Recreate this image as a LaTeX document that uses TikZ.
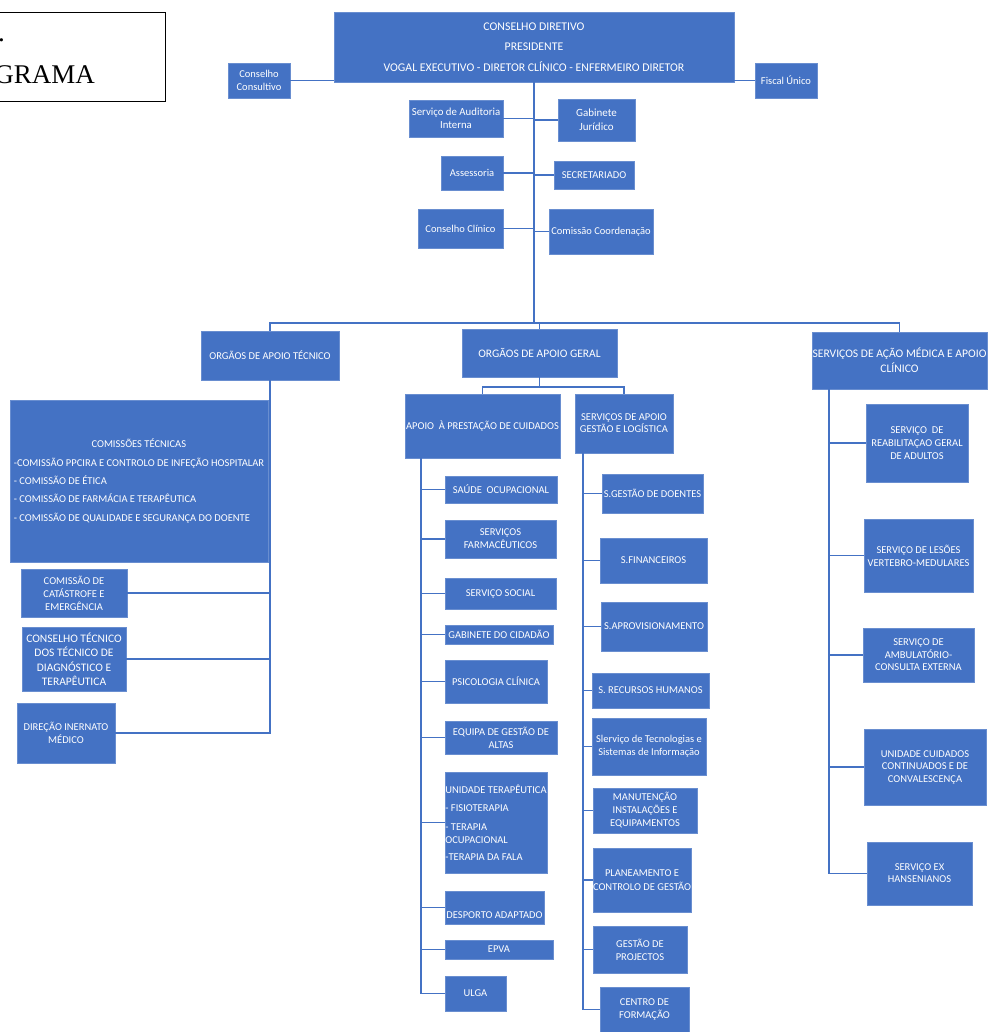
\documentclass[tikz,border=0pt]{standalone}
\usepackage{fontspec}
\setmainfont{Carlito}
\newfontfamily\tnr{Liberation Serif}
\definecolor{obl}{HTML}{4472C4}
\newcommand{\fs}[2]{\fontsize{#1}{#2}\selectfont}
\newcommand{\obox}[7][]{\node[box,minimum width={(#5-#3)*1pt},minimum height={(#6-#4)*1pt},#1] (#2) at ({(#3+#5)/2},{(#4+#6)/2}) {#7};}
\tikzset{
  box/.style={fill=obl, draw=obl!80!white, line width=0.6pt, text=white, inner sep=0pt, align=center, font=\fs{10.5}{13}},
  conn/.style={draw=obl, line width=1.8pt},
  frame/.style={draw=black, line width=0.9pt, inner sep=0pt},
  ttl/.style={font=\tnr\fs{27}{30}, anchor=base east, inner sep=0pt}
}
\begin{document}
\begin{tikzpicture}[x=1pt,y=-1pt]
\useasboundingbox (0,0) rectangle (987,1032);
% title frame
\node[frame, minimum width=180pt, minimum height=89pt] (tbox) at (75,56.5) {};
\node[ttl] (t1) at (5,42) {.};
\node[ttl] (t2) at (95,84) {GRAMA};
% top
\obox[font=\fs{11.8}{20.5}]{cd}{334}{12}{734}{82}{CONSELHO DIRETIVO\\PRESIDENTE\\VOGAL EXECUTIVO - DIRETOR CLÍNICO - ENFERMEIRO DIRETOR}
\obox{ccons}{228}{63}{290}{98}{Conselho\\Consultivo}
\obox{fu}{755}{63}{817}{98}{Fiscal Único}
\obox[font=\fs{10.8}{13}]{aud}{409}{100}{503}{137}{Serviço de Auditoria\\Interna}
\obox[font=\fs{11}{14}]{gab}{558}{99}{635}{141}{Gabinete\\Jurídico}
\obox{ass}{441}{156}{503}{190}{Assessoria}
\obox{sec}{554}{161}{634}{189}{SECRETARIADO}
\obox{ccl}{418}{209}{503}{248}{Conselho Clínico}
\obox{cco}{549}{209}{653}{254}{Comissão Coordenação}
% level 2
\obox{oat}{201}{331}{339}{380}{ORGÃOS DE APOIO TÉCNICO}
\obox[font=\fs{11.5}{14}]{oag}{462}{329}{617}{377}{ORGÃOS DE APOIO GERAL}
\obox[font=\fs{11.6}{15}]{sam}{812}{332}{987}{389}{SERVIÇOS DE AÇÃO MÉDICA E APOIO\\CLÍNICO}
% apoio tecnico
\obox[align=left, font=\fs{10.5}{18.3}]{com}{10}{400}{268}{562}{\makebox[250pt][c]{COMISSÕES TÉCNICAS}\\-COMISSÃO PPCIRA E CONTROLO DE INFEÇÃO HOSPITALAR\\- COMISSÃO DE ÉTICA\\- COMISSÃO DE FARMÁCIA E TERAPÊUTICA\\- COMISSÃO DE QUALIDADE E SEGURANÇA DO DOENTE}
\obox{cat}{21}{569}{127}{617}{COMISSÃO DE\\CATÁSTROFE E\\EMERGÊNCIA}
\obox[font=\fs{11.5}{14.5}]{ctd}{22}{627}{126}{691}{CONSELHO TÉCNICO\\DOS TÉCNICO DE\\DIAGNÓSTICO E\\TERAPÊUTICA}
\obox[font=\fs{10.5}{12.5}]{dim}{17}{703}{115}{763}{DIREÇÃO INERNATO\\MÉDICO}
% apoio geral
\obox{apc}{405}{394}{560}{458}{APOIO~~À PRESTAÇÃO DE CUIDADOS}
\obox[font=\fs{10.5}{12}]{sgl}{575}{394}{673}{453}{SERVIÇOS DE APOIO\\GESTÃO E LOGÍSTICA}
% apc column
\obox{sau}{445}{476}{557}{503}{SAÚDE~~OCUPACIONAL}
\obox{far}{445}{520}{556}{558}{SERVIÇOS\\FARMACÊUTICOS}
\obox{soc}{445}{578}{556}{609}{SERVIÇO SOCIAL}
\obox{gci}{445}{625}{553}{644}{GABINETE DO CIDADÃO}
\obox{psi}{445}{660}{547}{703}{PSICOLOGIA CLÍNICA}
\obox{alt}{445}{721}{557}{754}{EQUIPA DE GESTÃO DE\\ALTAS}
\obox[align=left]{ute}{445}{772}{547}{873}{UNIDADE TERAPÊUTICA\\[5pt]- FISIOTERAPIA\\[6pt]- TERAPIA\\OCUPACIONAL\\[4pt]-TERAPIA DA FALA}
\obox{des}{445}{891}{544}{924}{\raisebox{-11pt}[0pt][0pt]{DESPORTO ADAPTADO}}
\obox{epv}{445}{940}{553}{959}{EPVA}
\obox{ulg}{445}{976}{506}{1011}{ULGA}
% sgl column
\obox{sgd}{602}{474}{703}{513}{S.GESTÃO DE DOENTES}
\obox{sfi}{600}{538}{707}{583}{S.FINANCEIROS}
\obox{sap}{601}{602}{707}{651}{S.APROVISIONAMENTO}
\obox{srh}{592}{673}{709}{708}{S. RECURSOS HUMANOS}
\obox{sti}{592}{718}{706}{775}{Slerviço de Tecnologias e\\Sistemas de Informação}
\obox{man}{593}{788}{697}{833}{MANUTENÇÃO\\INSTALAÇÕES E\\EQUIPAMENTOS}
\obox[font=\fs{10.5}{14}]{pla}{593}{848}{691}{912}{PLANEAMENTO E\\CONTROLO DE GESTÃO}
\obox{gpr}{593}{926}{687}{973}{GESTÃO DE\\PROJECTOS}
\obox{cfo}{600}{987}{689}{1032}{CENTRO DE\\FORMAÇÃO}
% sam column
\obox{rea}{866}{404}{968}{482}{SERVIÇO~~DE\\REABILITAÇAO GERAL\\DE ADULTOS}
\obox{les}{864}{519}{973}{592}{SERVIÇO DE LESÕES\\VERTEBRO-MEDULARES}
\obox[font=\fs{10.5}{12.5}]{amb}{863}{628}{974}{682}{SERVIÇO DE\\AMBULATÓRIO-\\CONSULTA EXTERNA}
\obox[font=\fs{10.5}{12.5}]{ucc}{864}{729}{986}{805}{UNIDADE CUIDADOS\\CONTINUADOS E DE\\CONVALESCENÇA}
\obox[font=\fs{10.5}{12}]{hans}{867}{842}{972}{905}{SERVIÇO EX\\HANSENIANOS}
% connectors top
\coordinate (bus) at (534,323);
\coordinate (b2) at (539.5,387);
\coordinate (ca) at (421,458);
\coordinate (cb) at (583,453);
\coordinate (cc) at (829,389);
\draw[conn] (ccons.east) -- (ccons.east -| cd.west);
\draw[conn] (fu.west) -- (fu.west -| cd.east);
\draw[conn] (cd.south) -- (bus);
\foreach \n in {aud,ass,ccl} \draw[conn] (\n.east) -- (\n.east -| cd.south);
\foreach \n in {gab,sec,cco} \draw[conn] (\n.west) -- (\n.west -| cd.south);
\draw[conn] (oat.north) |- (sam.north |- bus) -- (sam.north);
\draw[conn] (oag.north) -- (oag.north |- bus);
\draw[conn] (oag.south) -- (b2);
\draw[conn] (apc.north) |- (sgl.north |- b2) -- (sgl.north);
% apoio tecnico
\draw[conn] (oat.south) |- (dim.east);
\foreach \n in {cat,ctd} \draw[conn] (\n.east) -- (\n.east -| oat.south);
% columns
\draw[conn] (ca) |- (ulg.west);
\foreach \n in {sau,far,soc,gci,psi,alt,ute,des,epv} \draw[conn] (\n.west) -- (\n.west -| ca);
\draw[conn] (cb) |- (cfo.west);
\foreach \n in {sgd,sfi,sap,srh,sti,man,pla,gpr} \draw[conn] (\n.west) -- (\n.west -| cb);
\draw[conn] (cc) |- (hans.west);
\foreach \n in {rea,les,amb,ucc} \draw[conn] (\n.west) -- (\n.west -| cc);
\end{tikzpicture}
\end{document}
